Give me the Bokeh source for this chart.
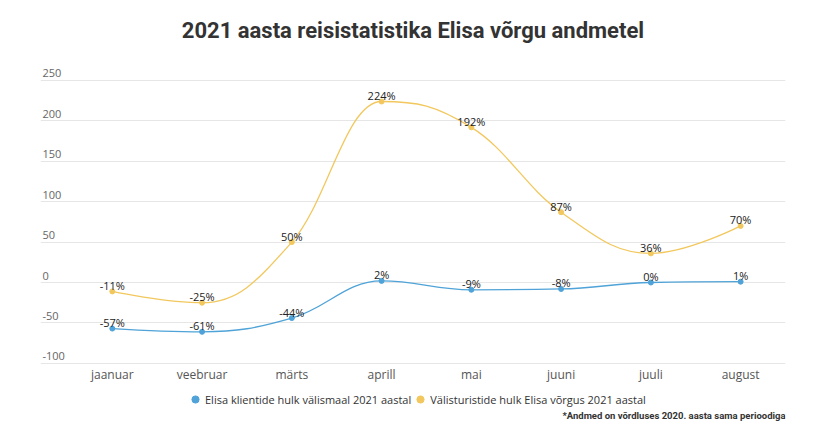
from bokeh.plotting import figure
from bokeh.models import ColumnDataSource, FixedTicker, Legend, LegendItem, Range1d
from bokeh.core.properties import value
from bokeh.embed import file_html
from bokeh.resources import INLINE

months = ["jaanuar", "veebruar", "märts", "aprill", "mai", "juuni", "juuli", "august"]
clients_abroad = [-57, -61, -44, 2, -9, -8, 0, 1]
foreign_tourists = [-11, -25, 50, 224, 192, 87, 36, 70]
series_names = ["Elisa klientide hulk välismaal 2021 aastal",
                "Välisturistide hulk Elisa võrgus 2021 aastal"]
y_ticks = [-100, -50, 0, 50, 100, 150, 200, 250]
title_text = "2021 aasta reisistatistika Elisa võrgu andmetel"
footnote = "*Andmed on võrdluses 2020. aasta sama perioodiga"

BLUE = "#4fa3d8"
YELLOW = "#f2c85e"
FONT = "Open Sans"

X_START, X_END = -0.8, 7.5
Y_START, Y_END = -188.1, 349.0


def spline_segments(xs, ys, smoothing=1.5):
    n = len(xs)
    left = [(xs[i], ys[i]) for i in range(n)]
    right = [(xs[i], ys[i]) for i in range(n)]
    d = smoothing + 1
    for i in range(1, n - 1):
        px, py = xs[i], ys[i]
        lx, ly = xs[i - 1], ys[i - 1]
        nx, ny = xs[i + 1], ys[i + 1]
        lcx = (smoothing * px + lx) / d
        lcy = (smoothing * py + ly) / d
        rcx = (smoothing * px + nx) / d
        rcy = (smoothing * py + ny) / d
        if rcx != lcx:
            corr = ((rcy - lcy) * (rcx - px)) / (rcx - lcx) + py - rcy
            lcy += corr
            rcy += corr
        if lcy > ly and lcy > py:
            lcy = max(ly, py); rcy = 2 * py - lcy
        elif lcy < ly and lcy < py:
            lcy = min(ly, py); rcy = 2 * py - lcy
        if rcy > ny and rcy > py:
            rcy = max(ny, py); lcy = 2 * py - rcy
        elif rcy < ny and rcy < py:
            rcy = min(ny, py); lcy = 2 * py - rcy
        left[i] = (lcx, lcy)
        right[i] = (rcx, rcy)
    seg = dict(x0=[], y0=[], x1=[], y1=[], cx0=[], cy0=[], cx1=[], cy1=[])
    for i in range(1, n):
        seg["x0"].append(xs[i - 1]); seg["y0"].append(ys[i - 1])
        seg["x1"].append(xs[i]); seg["y1"].append(ys[i])
        seg["cx0"].append(right[i - 1][0]); seg["cy0"].append(right[i - 1][1])
        seg["cx1"].append(left[i][0]); seg["cy1"].append(left[i][1])
    return seg


xs = list(range(len(months)))

p = figure(width=815, height=434, output_backend="svg", toolbar_location=None,
           x_range=Range1d(X_START, X_END), y_range=Range1d(Y_START, Y_END),
           min_border_left=40, min_border_right=30, min_border_top=0,
           min_border_bottom=0)
p.outline_line_color = None
p.background_fill_color = "white"
p.border_fill_color = "white"
p.xaxis.visible = False
p.yaxis.visible = False
p.xgrid.visible = False
p.ygrid.ticker = FixedTicker(ticks=y_ticks)
p.ygrid.grid_line_color = "#e6e6e6"

# title
p.text(x=[3.35], y=[311.9], text=[title_text], text_font=value("Roboto"),
       text_font_style="bold", text_font_size="22px", text_color="#333333",
       text_align="center", text_baseline="middle")

# y tick labels at frame left edge
ysrc = ColumnDataSource(dict(x=[X_START] * len(y_ticks), y=y_ticks,
                             t=[str(v) for v in y_ticks]))
p.text(x="x", y="y", text="t", source=ysrc, x_offset=2, y_offset=-3,
       text_font=value(FONT), text_font_size="11px", text_color="#666666",
       text_align="left", text_baseline="bottom")

# x category labels
xsrc = ColumnDataSource(dict(x=xs, y=[-113.9] * len(xs), t=months))
p.text(x="x", y="y", text="t", source=xsrc, text_font=value(FONT),
       text_font_size="12px", text_color="#555555", text_align="center",
       text_baseline="middle")

legend_renderers = []
for vals, color in [(clients_abroad, BLUE), (foreign_tourists, YELLOW)]:
    seg = spline_segments(xs, vals)
    p.bezier(x0="x0", y0="y0", x1="x1", y1="y1", cx0="cx0", cy0="cy0",
             cx1="cx1", cy1="cy1", source=ColumnDataSource(seg),
             line_color=color, line_width=1.3)
    p.scatter(xs, vals, size=5, color=color)
    lsrc = ColumnDataSource(dict(x=xs, y=vals, t=[f"{v}%" for v in vals]))
    p.text(x="x", y="y", text="t", source=lsrc, y_offset=-6,
           text_font=value(FONT), text_font_size="11px", text_color="#222222",
           text_align="center", text_baseline="middle")
    # legend symbol renderer (no visible point in the plot)
    legend_renderers.append(p.scatter(x=[float("nan")], y=[float("nan")],
                                      size=8, color=color))

legend = Legend(items=[LegendItem(label=series_names[0], renderers=[legend_renderers[0]]),
                       LegendItem(label=series_names[1], renderers=[legend_renderers[1]])],
                orientation="horizontal", location=(146, 26),
                label_text_font=FONT, label_text_font_size="11px",
                label_text_color="#333333", border_line_color=None,
                background_fill_alpha=0, glyph_width=18, glyph_height=18,
                label_standoff=1, spacing=0, padding=2, margin=0,
                label_height=14)
p.add_layout(legend, "center")

# footnote
p.text(x=[X_END], y=[-164.6], text=[footnote], text_font=value("Roboto"),
       text_font_style="bold", text_font_size="9.5px", text_color="#333333",
       text_align="right", text_baseline="middle")

open("out.html", "w").write(file_html(p, INLINE))
